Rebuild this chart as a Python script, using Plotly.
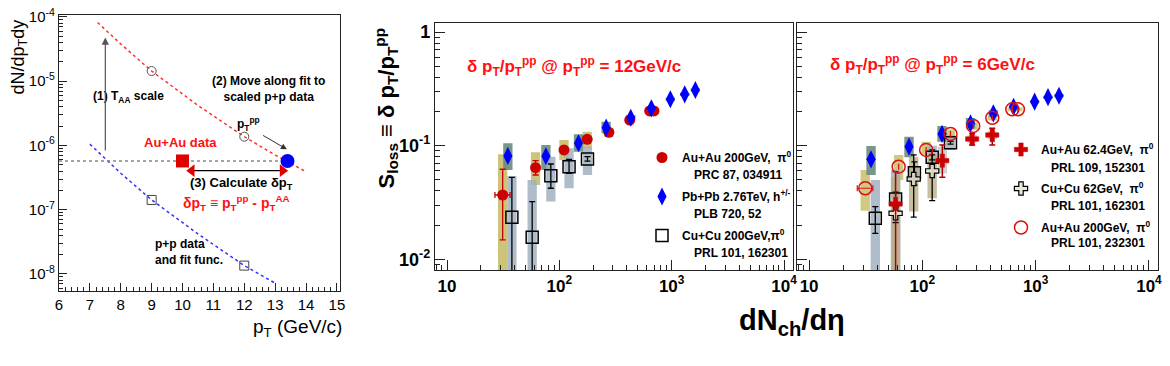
import plotly.graph_objects as go

# the page body has an 8px default margin, so the figure is made 8px smaller
# and reference pixel positions are shifted by that offset
OFF = 8
W, H = 1170 - OFF, 366 - OFF
FONT = "Liberation Sans, Arial, Helvetica, sans-serif"

# ---- left panel: method sketch ----
fit_pt_aa = [7.25, 8, 9, 10.5, 12, 13, 14]
fit_yield_aa = [8.2e-5, 3.8e-5, 1.44e-5, 4.2e-6, 1.37e-6, 7.1e-7, 3.9e-7]
fit_pt_pp = [7, 8, 9, 10.5, 12, 13]
fit_yield_pp = [1.05e-6, 3.7e-7, 1.42e-7, 4.2e-8, 1.35e-8, 7.2e-9]
pp_pt = [9, 12]
pp_yield = [1.42e-7, 1.35e-8]
scaled_pp_yield = [1.44e-5, 1.37e-6]
auau_pt = [10]
auau_yield = [5.74e-7]
matched_pt = [13.4]
shift_arrow_pt = [10.3, 13.24]
shift_arrow_yield = [4.06e-7, 4.06e-7]

# ---- middle panel: pT^pp = 12 GeV/c ----
m_auau200_x = [31.3, 61.4, 110, 177, 276, 423, 637, 696]
m_auau200_y = [0.0368, 0.064, 0.0917, 0.1138, 0.131, 0.168, 0.202, 0.202]
m_auau200_stat_hi = [0.062, 0.0738, 0.094, 0.116, 0.133, 0.170, 0.204, 0.204]
m_auau200_stat_lo = [0.0148, 0.0552, 0.089, 0.111, 0.129, 0.166, 0.200, 0.200]
m_auau200_sys_hi = [0.084, 0.0875, 0.112, 0.1328, 0.143, 0.178, 0.212, 0.212]
m_auau200_sys_lo = [0.005, 0.045, 0.0748, 0.0948, 0.119, 0.158, 0.192, 0.192]
m_auau200_xerr_hi = [36.4, 61.4, 110, 177, 276, 423, 637, 696]
m_auau200_xerr_lo = [26.7, 61.4, 110, 177, 276, 423, 637, 696]

m_pbpb_x = [34.8, 75.9, 148, 261, 432, 659, 973, 1306, 1625]
m_pbpb_y = [0.0812, 0.0807, 0.105, 0.144, 0.176, 0.213, 0.256, 0.283, 0.309]
m_pbpb_sys_hi = [0.105, 0.1014, 0.126, 0.162, 0.186, 0.222, 0.265, 0.292, 0.318]
m_pbpb_sys_lo = [0.061, 0.061, 0.0886, 0.1285, 0.166, 0.204, 0.247, 0.274, 0.30]

m_cucu200_x = [37.8, 57.3, 84, 122, 178]
m_cucu200_y = [0.0234, 0.0156, 0.0545, 0.0653, 0.0764]
m_cucu200_stat_hi = [0.0527, 0.0322, 0.069, 0.0759, 0.080]
m_cucu200_stat_lo = [0.004, 0.004, 0.0422, 0.0572, 0.073]
m_cucu200_sys_hi = [0.0541, 0.0499, 0.080, 0.0948, 0.098]
m_cucu200_sys_lo = [0.004, 0.004, 0.0322, 0.0422, 0.0552]

# ---- right panel: pT^pp = 6 GeV/c ----
r_pbpb_x = [35.2, 76.2, 149, 266, 423, 638, 979, 1285, 1607]
r_pbpb_y = [0.0759, 0.098, 0.1268, 0.157, 0.1927, 0.220, 0.244, 0.267, 0.275]
r_pbpb_sys_hi = [0.0994, 0.12, 0.149, 0.175, 0.205, 0.23, 0.252, 0.275, 0.283]
r_pbpb_sys_lo = [0.0553, 0.079, 0.108, 0.142, 0.18, 0.21, 0.236, 0.259, 0.267]

r_auau200_x = [31.3, 61.7, 108, 177, 281, 414, 622, 697]
r_auau200_y = [0.0422, 0.0653, 0.0917, 0.1268, 0.149, 0.176, 0.209, 0.209]
r_auau200_sys_hi = [0.061, 0.0828, 0.108, 0.139, 0.16, 0.185, 0.217, 0.217]
r_auau200_sys_lo = [0.0267, 0.050, 0.083, 0.108, 0.138, 0.167, 0.201, 0.201]
r_auau200_xerr_hi = [36.5, 61.7, 108, 177, 281, 414, 622, 697]
r_auau200_xerr_lo = [26.6, 61.7, 108, 177, 281, 414, 622, 697]

r_auau62_x = [58, 150, 275, 414]
r_auau62_y = [0.0307, 0.0738, 0.1145, 0.124]
r_auau62_stat_hi = [0.059, 0.1014, 0.128, 0.142]
r_auau62_stat_lo = [0.004, 0.0527, 0.1014, 0.1014]
r_auau62_sys_hi = [0.035, 0.098, 0.124, 0.133]
r_auau62_sys_lo = [0.027, 0.057, 0.105, 0.114]

r_cucu62_x = [58, 83.8, 122]
r_cucu62_y = [0.0254, 0.0509, 0.0599]
r_cucu62_stat_hi = [0.031, 0.083, 0.0917]
r_cucu62_stat_lo = [0.021, 0.0235, 0.0328]
r_cucu62_sys_hi = [0.0534, 0.080, 0.083]
r_cucu62_sys_lo = [0.004, 0.0263, 0.0345]

r_cucu200_x = [38.4, 58, 85, 122, 177]
r_cucu200_y = [0.023, 0.034, 0.0579, 0.079, 0.106]
r_cucu200_stat_hi = [0.0291, 0.039, 0.072, 0.083, 0.109]
r_cucu200_stat_lo = [0.0169, 0.029, 0.045, 0.075, 0.103]
r_cucu200_sys_hi = [0.050, 0.061, 0.066, 0.10, 0.124]
r_cucu200_sys_lo = [0.004, 0.004, 0.05, 0.068, 0.0917]

x_tick_vals = [10, 100, 1000, 10000]
x_tick_text = ["<b>10</b>", "<b>10<sup>2</sup></b>", "<b>10<sup>3</sup></b>", "<b>10<sup>4</sup></b>"]
y_tick_vals = [0.01, 0.1, 1]
y_tick_text = ["<b>10<sup>-2</sup></b>", "<b>10<sup>-1</sup></b>", "<b>1</b>"]
left_y_vals = [1e-8, 1e-7, 1e-6, 1e-5, 1e-4]
left_y_text = ["10<sup>-8</sup>", "10<sup>-7</sup>", "10<sup>-6</sup>", "10<sup>-5</sup>", "10<sup>-4</sup>"]

mid_refs = ["PRC 87, 034911", "PLB 720, 52", "PRL 101, 162301"]
right_refs = ["PRL 109, 152301", "PRL 101, 162301", "PRL 101, 232301"]


def px_x(p):
    return (p - OFF) / W


def px_y(p):
    return 1 - (p - OFF) / H


def err(y, hi, lo):
    return dict(type="data", array=[h - v for h, v in zip(hi, y)],
                arrayminus=[v - l for v, l in zip(y, lo)])


def boxes(x, lo, hi, half=1.1):
    # systematic boxes, drawn as filled polygons separated by gaps
    bx, by = [], []
    for xi, l, h in zip(x, lo, hi):
        bx += [xi / half, xi * half, xi * half, xi / half, xi / half, None]
        by += [l, l, h, h, l, None]
    return bx, by


def add_boxes(fig, x, lo, hi, color, xa, ya):
    bx, by = boxes(x, lo, hi)
    fig.add_trace(go.Scatter(x=bx, y=by, mode="lines", fill="toself", fillcolor=color,
                             line=dict(width=0), hoverinfo="skip", showlegend=False,
                             xaxis=xa, yaxis=ya))


fig = go.Figure()

# left panel traces
fig.add_trace(go.Scatter(x=fit_pt_aa, y=fit_yield_aa, mode="lines", line=dict(color="#ff3030", dash="dot", width=1.5),
                         showlegend=False))
fig.add_trace(go.Scatter(x=fit_pt_pp, y=fit_yield_pp, mode="lines", line=dict(color="#3030ff", dash="dot", width=1.5),
                         showlegend=False))
fig.add_trace(go.Scatter(x=[6, matched_pt[0]], y=auau_yield * 2, mode="lines",
                         line=dict(color="#888888", dash="dot", width=1.5), showlegend=False))
fig.add_trace(go.Scatter(x=pp_pt, y=scaled_pp_yield, mode="markers",
                         marker=dict(symbol="circle-open", size=9, color="#555555", line=dict(width=1)),
                         showlegend=False))
fig.add_trace(go.Scatter(x=pp_pt, y=pp_yield, mode="markers",
                         marker=dict(symbol="square-open", size=9, color="#444444", line=dict(width=1)),
                         showlegend=False))
fig.add_trace(go.Scatter(x=shift_arrow_pt, y=shift_arrow_yield, mode="lines+markers",
                         line=dict(color="black", width=1.2),
                         marker=dict(symbol=["triangle-left", "triangle-right"], size=11, color="#e00000"),
                         showlegend=False))
fig.add_trace(go.Scatter(x=auau_pt, y=auau_yield, mode="markers",
                         marker=dict(symbol="square", size=13, color="#e00000"), showlegend=False))
fig.add_trace(go.Scatter(x=matched_pt, y=auau_yield, mode="markers",
                         marker=dict(symbol="circle", size=14, color="#0000ff"), showlegend=False))

# middle panel
add_boxes(fig, m_auau200_x, m_auau200_sys_lo, m_auau200_sys_hi, "rgba(200,190,110,0.9)", "x2", "y2")
add_boxes(fig, m_pbpb_x, m_pbpb_sys_lo, m_pbpb_sys_hi, "rgba(105,140,125,0.9)", "x2", "y2")
add_boxes(fig, m_cucu200_x, m_cucu200_sys_lo, m_cucu200_sys_hi, "rgba(160,178,192,0.85)", "x2", "y2")

fig.add_trace(go.Scatter(
    x=m_cucu200_x, y=m_cucu200_y, mode="markers", xaxis="x2", yaxis="y2",
    name="<b>Cu+Cu 200GeV,π<sup>0</sup></b>", legendgroup="m3",
    marker=dict(symbol="square-open", size=12, color="black", line=dict(width=1.5)),
    error_y=dict(err(m_cucu200_y, m_cucu200_stat_hi, m_cucu200_stat_lo), color="black", thickness=1.3, width=3),
    legend="legend", legendrank=3))
fig.add_trace(go.Scatter(
    x=m_auau200_x, y=m_auau200_y, mode="markers", xaxis="x2", yaxis="y2",
    name="<b>Au+Au 200GeV,\u00a0\u00a0π<sup>0</sup></b>", legendgroup="m1",
    marker=dict(symbol="circle", size=11, color="#cc0000"),
    error_y=dict(err(m_auau200_y, m_auau200_stat_hi, m_auau200_stat_lo), color="#cc0000", thickness=1.3, width=3),
    error_x=dict(err(m_auau200_x, m_auau200_xerr_hi, m_auau200_xerr_lo), color="#cc0000", thickness=1.3, width=3),
    legend="legend", legendrank=1))
fig.add_trace(go.Scatter(
    x=m_pbpb_x, y=m_pbpb_y, mode="markers", xaxis="x2", yaxis="y2",
    name="<b>Pb+Pb 2.76TeV, h<sup>+/-</sup></b>", legendgroup="m2",
    marker=dict(symbol="diamond-tall", size=13, color="#0000ff"),
    legend="legend", legendrank=2))

# right panel
add_boxes(fig, r_auau200_x, r_auau200_sys_lo, r_auau200_sys_hi, "rgba(205,195,115,0.9)", "x3", "y3")
add_boxes(fig, r_pbpb_x, r_pbpb_sys_lo, r_pbpb_sys_hi, "rgba(105,140,125,0.9)", "x3", "y3")
add_boxes(fig, r_cucu200_x, r_cucu200_sys_lo, r_cucu200_sys_hi, "rgba(160,178,192,0.85)", "x3", "y3")
add_boxes(fig, r_cucu62_x, r_cucu62_sys_lo, r_cucu62_sys_hi, "rgba(185,175,135,0.8)", "x3", "y3")
add_boxes(fig, r_auau62_x, r_auau62_sys_lo, r_auau62_sys_hi, "rgba(195,198,202,0.8)", "x3", "y3")

fig.add_trace(go.Scatter(
    x=r_cucu200_x, y=r_cucu200_y, mode="markers", xaxis="x3", yaxis="y3", showlegend=False,
    marker=dict(symbol="square-open", size=12, color="black", line=dict(width=1.5)),
    error_y=dict(err(r_cucu200_y, r_cucu200_stat_hi, r_cucu200_stat_lo), color="black", thickness=1.3, width=3)))
fig.add_trace(go.Scatter(
    x=r_pbpb_x, y=r_pbpb_y, mode="markers", xaxis="x3", yaxis="y3", showlegend=False,
    marker=dict(symbol="diamond-tall", size=13, color="#0000ff")))
fig.add_trace(go.Scatter(
    x=r_cucu62_x, y=r_cucu62_y, mode="markers", xaxis="x3", yaxis="y3",
    name="<b>Cu+Cu 62GeV,\u00a0\u00a0π<sup>0</sup></b>", legendgroup="r2",
    marker=dict(symbol="cross", size=11, color="rgba(235,230,210,0.9)", line=dict(width=1.2, color="black")),
    error_y=dict(err(r_cucu62_y, r_cucu62_stat_hi, r_cucu62_stat_lo), color="black", thickness=1.3, width=3),
    legend="legend2", legendrank=2))
fig.add_trace(go.Scatter(
    x=r_auau62_x, y=r_auau62_y, mode="markers", xaxis="x3", yaxis="y3",
    name="<b>Au+Au 62.4GeV,\u00a0\u00a0π<sup>0</sup></b>", legendgroup="r1",
    marker=dict(symbol="cross", size=11, color="#cc0000", line=dict(width=0.5, color="#cc0000")),
    error_y=dict(err(r_auau62_y, r_auau62_stat_hi, r_auau62_stat_lo), color="#b00000", thickness=1.5, width=3),
    legend="legend2", legendrank=1))
fig.add_trace(go.Scatter(
    x=r_auau200_x, y=r_auau200_y, mode="markers", xaxis="x3", yaxis="y3",
    name="<b>Au+Au 200GeV,\u00a0\u00a0π<sup>0</sup></b>", legendgroup="r3",
    marker=dict(symbol="circle-open", size=13, color="#dd1010", line=dict(width=1.5)),
    error_x=dict(err(r_auau200_x, r_auau200_xerr_hi, r_auau200_xerr_lo), color="#dd1010", thickness=1.2, width=3),
    legend="legend2", legendrank=3))

# axes
log_minor = [k * 10 ** e for e in range(-9, 5) for k in range(2, 10)]
frame = dict(showline=True, mirror=True, linecolor="#222222", linewidth=1.2, showgrid=False, zeroline=False,
             ticks="inside", tickcolor="#222222", ticklabeloverflow="allow")
big_x = dict(frame, type="log", range=[0.893, 4.08], tickvals=x_tick_vals, ticktext=x_tick_text, ticklen=10,
             minor=dict(tickmode="array", tickvals=log_minor, ticks="inside", ticklen=5, tickcolor="#222222"),
             tickfont=dict(size=17, color="black"))
big_y = dict(frame, type="log", range=[-2.094, 0.082], tickvals=y_tick_vals, ticktext=y_tick_text, ticklen=10,
             minor=dict(tickmode="array", tickvals=log_minor, ticks="inside", ticklen=5, tickcolor="#222222"),
             tickfont=dict(size=18, color="black"))
leg = dict(xanchor="left", yanchor="top", bgcolor="rgba(0,0,0,0)", borderwidth=0,
           font=dict(size=12, family=FONT, color="black"), tracegroupgap=20, itemwidth=30)

fig.update_layout(
    width=W, height=H, margin=dict(l=0, r=0, t=0, b=0, autoexpand=False),
    paper_bgcolor="white", plot_bgcolor="white",
    font=dict(family=FONT, color="black"),
    xaxis=dict(frame, domain=[px_x(59), px_x(340)], range=[6, 15.1], anchor="y", dtick=1, ticklen=8,
               minor=dict(ticks="inside", ticklen=4, dtick=0.2, tickcolor="#222222"),
               tickfont=dict(size=15)),
    yaxis=dict(frame, domain=[px_y(291), px_y(15)], type="log", range=[-8.265, -3.969], anchor="x",
               tickvals=left_y_vals, ticktext=left_y_text, ticklen=8,
               minor=dict(tickmode="array", tickvals=log_minor, ticks="inside", ticklen=4, tickcolor="#222222"),
               tickfont=dict(size=15)),
    xaxis2=dict(big_x, domain=[px_x(435), px_x(793)], anchor="y2"),
    yaxis2=dict(big_y, domain=[px_y(270), px_y(22.7)], anchor="x2"),
    xaxis3=dict(big_x, domain=[px_x(797), px_x(1158)], anchor="y3"),
    yaxis3=dict(big_y, domain=[px_y(270), px_y(22.7)], anchor="x3", showticklabels=False),
    legend=dict(leg, x=px_x(642), y=px_y(143)),
    legend2=dict(leg, x=px_x(1001), y=px_y(135)),
)

ann = []


def note(text, x, y, size=12, color="black", xanchor="center", yanchor="middle", align="center", angle=0):
    ann.append(dict(text=text, x=px_x(x), y=px_y(y), xref="paper", yref="paper", showarrow=False,
                    font=dict(size=size, color=color, family=FONT), xanchor=xanchor, yanchor=yanchor,
                    align=align, textangle=angle))


# left panel labels
note("dN/dp<sub>T</sub>dy", 19, 18, size=18, yanchor="top", angle=-90)
note("p<sub>T</sub> (GeV/c)", 344, 328, size=19, xanchor="right")
note("<b>(1) T<sub>AA</sub> scale</b>", 128, 97, size=12)
note("<b>(2) Move along fit to<br>scaled p+p data</b>", 268, 89, size=12)
note("<b>p<sub>T</sub><sup>pp</sup></b>", 248, 124, size=12)
note("<b>Au+Au data</b>", 180, 142, size=13, color="#ff1010")
note("<b>(3) Calculate δp<sub>T</sub></b>", 241, 183, size=13)
note("<b>δp<sub>T</sub> ≡ p<sub>T</sub><sup>pp</sup> - p<sub>T</sub><sup>AA</sup></b>", 236, 203, size=14, color="#ff1010")
note("<b>p+p data<br>and fit func.</b>", 153, 252, size=12, xanchor="left", align="left")

# right panels labels
note("<b>S<sub>loss</sub> ≡ δ p<sub>T</sub>/p<sub>T</sub><sup>pp</sup></b>", 386, 26, size=22, yanchor="top", angle=-90)
note("<b>dN<sub>ch</sub>/dη</b>", 792, 322, size=29)
note("<b>δ p<sub>T</sub>/p<sub>T</sub><sup>pp</sup> @ p<sub>T</sub><sup>pp</sup> = 12GeV/c</b>", 465, 66, size=17,
     color="#ff1010", xanchor="left")
note("<b>δ p<sub>T</sub>/p<sub>T</sub><sup>pp</sup> @ p<sub>T</sub><sup>pp</sup> = 6GeV/c</b>", 828, 64, size=17,
     color="#ff1010", xanchor="left")

# reference lines under each legend entry
for i, ref in enumerate(mid_refs):
    note("<b>" + ref + "</b>", 692, 175 + 39 * i, size=12, xanchor="left")
for i, ref in enumerate(right_refs):
    note("<b>" + ref + "</b>", 1049, 168 + 37.5 * i, size=12, xanchor="left")

# arrows in the left panel (annotation coordinates on log axes are log10)
ann.append(dict(x=7.5, y=-4.32, ax=7.5, ay=-6.1, xref="x", yref="y", axref="x", ayref="y", text="",
                showarrow=True, arrowhead=2, arrowsize=1.2, arrowwidth=1.2, arrowcolor="#555555"))
ann.append(dict(x=13.38, y=-6.06, ax=12.56, ay=-5.83, xref="x", yref="y", axref="x", ayref="y", text="",
                showarrow=True, arrowhead=2, arrowsize=1.2, arrowwidth=1, arrowcolor="#333333"))
fig.update_layout(annotations=ann)

fig.write_html("out.html")
